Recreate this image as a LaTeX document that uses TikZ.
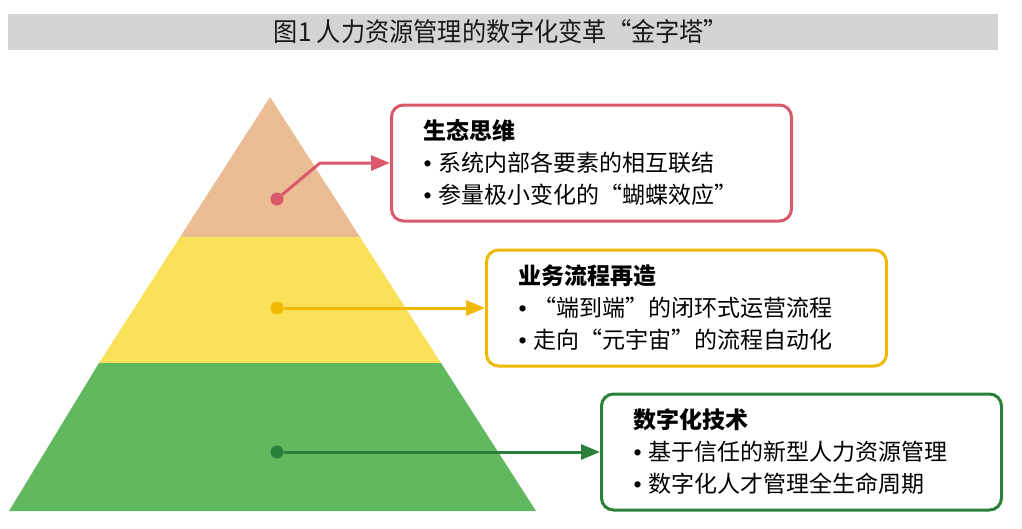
\documentclass[tikz,border=0pt]{standalone}
\usepackage{fontspec}
\newfontfamily\cjk{Noto Sans CJK SC}
\newfontfamily\latin{Liberation Sans}
\newcommand\itembullet{{\latin •}\hspace{7pt}}
\usetikzlibrary{arrows.meta}
\definecolor{titlegray}{HTML}{D4D4D4}
\definecolor{peach}{HTML}{EBBD94}
\definecolor{sun}{HTML}{FAE15A}
\definecolor{leaf}{HTML}{62B85F}
\definecolor{rose}{HTML}{D9586A}
\definecolor{amber}{HTML}{F0B800}
\definecolor{forest}{HTML}{2A7F39}

\begin{document}
\begin{tikzpicture}[x=1pt,y=-1pt,
    layerdot/.style={circle,inner sep=0pt,minimum size=13pt},
    infobox/.style={draw,fill=white,line width=3pt,rounded corners=12pt,anchor=west,
        minimum height=116pt,text width=336pt,inner xsep=32pt,align=left,
        font=\cjk\fontsize{23}{32}\selectfont},
    link/.style={line width=3pt,-{Triangle[length=19pt,width=15pt]}}]
    \useasboundingbox (0,0) rectangle (1022,528);

    \fill[titlegray] (8,14) rectangle (998,50);
    \node[font=\cjk\fontsize{26}{28}\selectfont,xscale=0.93,text=black!90] (title) at (501,32) {图1 人力资源管理的数字化变革“金字塔”};

    \fill[peach] (270,97) -- (360,237) -- (180,237) -- cycle;
    \fill[sun] (180,237) -- (360,237) -- (441,363) -- (99,363) -- cycle;
    \fill[leaf] (99,363) -- (441,363) -- (536,511) -- (9,511) -- cycle;

    \node[infobox,draw=rose] (eco) at (390,163)
        {\textbf{生态思维}\\\itembullet 系统内部各要素的相互联结\\\itembullet 参量极小变化的“蝴蝶效应”};
    \node[infobox,draw=amber] (flow) at (485,308)
        {\textbf{业务流程再造}\\\itembullet “端到端”的闭环式运营流程\\\itembullet 走向“元宇宙”的流程自动化};
    \node[infobox,draw=forest] (tech) at (600,452)
        {\textbf{数字化技术}\\\itembullet 基于信任的新型人力资源管理\\\itembullet 数字化人才管理全生命周期};

    \node[layerdot,fill=rose] (d1) at (277,199) {};
    \node[layerdot,fill=amber] (d2) at (277,308) {};
    \node[layerdot,fill=forest] (d3) at (277,452) {};
    \coordinate (k1) at (320,163);

    \draw[link,rose] (d1) -- (k1) -- (eco.west);
    \draw[link,amber] (d2) -- (flow.west);
    \draw[link,forest] (d3) -- (tech.west);
\end{tikzpicture}
\end{document}
